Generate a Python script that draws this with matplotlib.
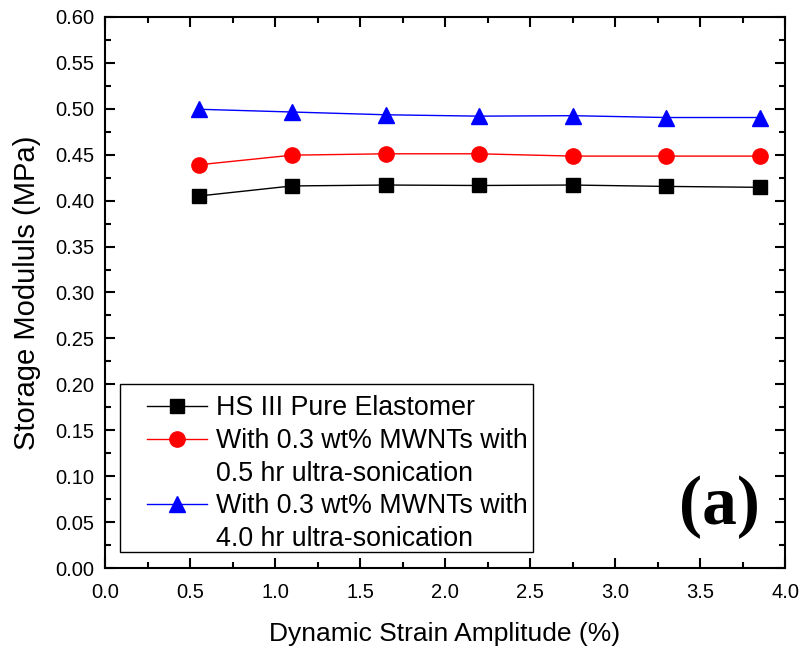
import matplotlib
matplotlib.use("Agg")
import matplotlib.pyplot as plt
from matplotlib.lines import Line2D
from matplotlib.patches import Rectangle
from matplotlib.legend_handler import HandlerLine2D
from matplotlib.ticker import MultipleLocator, FormatStrFormatter

# strain amplitude (%)
strain = [0.55, 1.1, 1.65, 2.2, 2.75, 3.3, 3.85]

# storage modulus (MPa)
pure = [0.405, 0.416, 0.417, 0.4165, 0.417, 0.4155, 0.4145]
son_05 = [0.439, 0.4495, 0.451, 0.451, 0.4485, 0.4485, 0.4485]
son_40 = [0.4995, 0.4965, 0.4935, 0.492, 0.4925, 0.4905, 0.4905]

labels = ["HS III Pure Elastomer",
          "With 0.3 wt% MWNTs with\n0.5 hr ultra-sonication",
          "With 0.3 wt% MWNTs with\n4.0 hr ultra-sonication"]

plt.rcParams['font.family'] = ['Liberation Sans', 'DejaVu Sans']

fig = plt.figure(figsize=(8.04, 6.52), dpi=100)
ax = fig.add_axes([0.1306, 0.1288, 0.8458, 0.8452])

l1, = ax.plot(strain, pure, color='black', lw=1, marker='s', ms=10)
l2, = ax.plot(strain, son_05, color='red', lw=1, marker='o', ms=11)
l3, = ax.plot(strain, son_40, color='blue', lw=1, marker='^', ms=11)

ax.set_xlim(0, 4.0)
ax.set_ylim(0, 0.60)
ax.xaxis.set_major_locator(MultipleLocator(0.5))
ax.xaxis.set_minor_locator(MultipleLocator(0.25))
ax.yaxis.set_major_locator(MultipleLocator(0.05))
ax.yaxis.set_minor_locator(MultipleLocator(0.025))
ax.xaxis.set_major_formatter(FormatStrFormatter('%.1f'))
ax.yaxis.set_major_formatter(FormatStrFormatter('%.2f'))
ax.tick_params(which='both', direction='in', top=True, right=True, width=1.5)
ax.tick_params(which='major', length=7, labelsize=14.5)
ax.tick_params(axis='x', pad=11)
ax.tick_params(axis='y', pad=8)
ax.tick_params(which='minor', length=4)
for s in ax.spines.values():
    s.set_linewidth(1.5)

ax.set_xlabel("Dynamic Strain Amplitude (%)", fontsize=19, labelpad=14)
ax.set_ylabel("Storage Modululs (MPa)", fontsize=21, labelpad=10)

# multi-line labels: handle sits on the first line, like the original
blank = Line2D([], [], color='none')
handles, texts = [], []
for h, lab in zip([l1, l2, l3], labels):
    for i, part in enumerate(lab.split("\n")):
        handles.append(h if i == 0 else blank)
        texts.append(part)

# legend box drawn separately (content sits low in the box in the original)
ax.add_patch(Rectangle((0.022, 0.029), 0.607, 0.305, transform=ax.transAxes,
                       facecolor='white', edgecolor='black', lw=1, zorder=4))
leg = ax.legend(handles, texts, loc='lower left', bbox_to_anchor=(0.022, 0.029),
                fontsize=19.3, frameon=False,
                handlelength=3.25, labelspacing=0.25, borderpad=0,
                handletextpad=0.33, borderaxespad=0,
                handler_map={Line2D: HandlerLine2D(xpad=1.0)})

ax.text(0.903, 0.111, "(a)", transform=ax.transAxes, ha='center', va='center',
        fontsize=50, fontweight='bold', family='Liberation Serif')

fig.savefig("out.png", dpi=100)
